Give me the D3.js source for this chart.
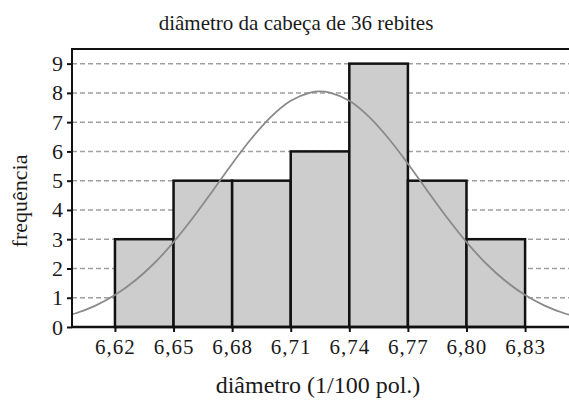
<!DOCTYPE html>
<html>
<head>
<meta charset="utf-8">
<script src="https://cdn.jsdelivr.net/npm/d3@7"></script>
<style>
  body { margin: 0; background: #fff; }
  svg { display: block; }
  svg text { font-family: "Liberation Serif", "Times New Roman", Times, serif; }
</style>
</head>
<body>
<div id="chart"></div>
<script>
// bins of the histogram (lower edge, upper edge, frequency)
const binEdges = [6.62, 6.65, 6.68, 6.71, 6.74, 6.77, 6.80, 6.83];
const frequencies = [3, 5, 5, 6, 9, 5, 3];
const xTicks = [6.62, 6.65, 6.68, 6.71, 6.74, 6.77, 6.80, 6.83];
const yTicks = [0, 1, 2, 3, 4, 5, 6, 7, 8, 9];

// fitted curve
const curveX = [6.59, 6.60, 6.61, 6.62, 6.63, 6.64, 6.65, 6.66, 6.67, 6.68, 6.69, 6.70, 6.71, 6.72,
                6.725, 6.73, 6.74, 6.75, 6.76, 6.77, 6.78, 6.79, 6.80, 6.81, 6.82, 6.83, 6.84, 6.85, 6.86];
const curveY = [0.30, 0.47, 0.73, 1.09, 1.57, 2.17, 2.90, 3.74, 4.65, 5.58, 6.45, 7.19, 7.73, 8.01,
                8.05, 8.01, 7.73, 7.19, 6.45, 5.58, 4.65, 3.74, 2.90, 2.17, 1.57, 1.09, 0.73, 0.47, 0.30];

const title = 'diâmetro da cabeça de 36 rebites';
const xLabel = 'diâmetro (1/100 pol.)';
const yLabel = 'frequência';

const width = 569, height = 404;
const margin = { top: 49, right: 0, bottom: 77, left: 72 };

const svg = d3.select('#chart').append('svg')
    .attr('width', width)
    .attr('height', height);

const x = d3.scaleLinear()
    .domain([6.598, 6.853])
    .range([margin.left, 570]);

const y = d3.scaleLinear()
    .domain([0, 9.5])
    .range([height - margin.bottom, margin.top]);

svg.append('defs').append('clipPath').attr('id', 'plot-clip')
  .append('rect')
    .attr('x', margin.left)
    .attr('y', margin.top)
    .attr('width', width - margin.left)
    .attr('height', y(0) - margin.top);

// dashed gridlines
svg.append('g')
  .selectAll('line')
  .data(yTicks.filter(d => d > 0))
  .join('line')
    .attr('x1', margin.left)
    .attr('x2', width)
    .attr('y1', d => y(d))
    .attr('y2', d => y(d))
    .attr('stroke', '#a0a0a0')
    .attr('stroke-width', 1.5)
    .attr('stroke-dasharray', '5,3');

// bars
const bins = frequencies.map((f, i) => ({ x0: binEdges[i], x1: binEdges[i + 1], n: f }));
svg.append('g')
  .selectAll('rect')
  .data(bins)
  .join('rect')
    .attr('x', d => x(d.x0))
    .attr('y', d => y(d.n))
    .attr('width', d => x(d.x1) - x(d.x0))
    .attr('height', d => y(0) - y(d.n))
    .attr('fill', '#cdcdcd')
    .attr('stroke', '#111')
    .attr('stroke-width', 2.5);

// curve
const line = d3.line()
    .x((d, i) => x(curveX[i]))
    .y(d => y(d))
    .curve(d3.curveCatmullRom);

svg.append('path')
    .datum(curveY)
    .attr('clip-path', 'url(#plot-clip)')
    .attr('d', line)
    .attr('fill', 'none')
    .attr('stroke', '#8a8a8a')
    .attr('stroke-width', 1.8);

// frame: top and left border
svg.append('path')
    .attr('d', `M${width},${margin.top}H${margin.left}V${y(0)}`)
    .attr('fill', 'none')
    .attr('stroke', '#111')
    .attr('stroke-width', 2);

// x axis
const xAxis = svg.append('g')
    .attr('transform', `translate(0,${y(0)})`)
    .call(d3.axisBottom(x)
        .tickValues(xTicks)
        .tickSize(5)
        .tickFormat(d => d3.format('.2f')(d).replace('.', ',')));
xAxis.attr('font-family', null).attr('font-size', null);
xAxis.select('.domain').attr('d', `M${margin.left},0H${width}`).attr('stroke', '#111').attr('stroke-width', 2.5);
xAxis.selectAll('.tick line').attr('stroke', '#111').attr('stroke-width', 2);
xAxis.selectAll('.tick text')
    .attr('y', 12)
    .attr('fill', '#1a1a1a')
    .style('letter-spacing', '1px')
    .style('font-size', '21px');

// y axis
const yAxis = svg.append('g')
    .attr('transform', `translate(${margin.left},0)`)
    .call(d3.axisLeft(y)
        .tickValues(yTicks)
        .tickSize(5)
        .tickPadding(4)
        .tickFormat(d3.format('d')));
yAxis.attr('font-family', null).attr('font-size', null);
yAxis.select('.domain').remove();
yAxis.selectAll('.tick line').attr('stroke', '#111').attr('stroke-width', 2);
yAxis.selectAll('.tick text')
    .attr('fill', '#1a1a1a')
    .style('font-size', '22px');

// titles
svg.append('text')
    .attr('x', 296)
    .attr('y', 30)
    .attr('text-anchor', 'middle')
    .attr('fill', '#1a1a1a')
    .style('font-size', '21px')
    .text(title);

svg.append('text')
    .attr('x', 318)
    .attr('y', 393)
    .attr('text-anchor', 'middle')
    .attr('fill', '#1a1a1a')
    .style('font-size', '24px')
    .text(xLabel);

svg.append('text')
    .attr('transform', 'translate(27,201) rotate(-90)')
    .attr('text-anchor', 'middle')
    .attr('fill', '#1a1a1a')
    .style('font-size', '22px')
    .text(yLabel);
</script>
</body>
</html>
